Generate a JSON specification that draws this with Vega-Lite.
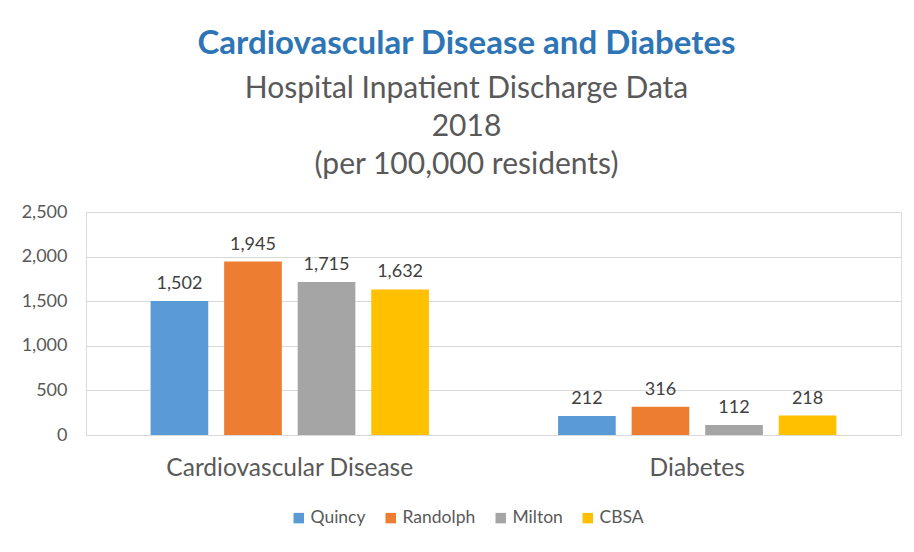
{
  "$schema": "https://vega.github.io/schema/vega-lite/v6.json",
  "width": 815,
  "height": 223,
  "autosize": {"type": "none"},
  "padding": {"left": 86, "top": 212, "right": 13, "bottom": 117},
  "background": "white",
  "title": {
    "text": "Cardiovascular Disease and Diabetes",
    "subtitle": ["Hospital Inpatient Discharge Data", "2018", "(per 100,000 residents)"],
    "anchor": "middle",
    "dx": -27,
    "offset": 23,
    "font": "Lato",
    "fontSize": 33,
    "fontWeight": "bold",
    "color": "#2e75b6",
    "subtitleFont": "Lato",
    "subtitleFontSize": 30,
    "subtitleColor": "#595959",
    "subtitleLineHeight": 38,
    "subtitlePadding": 13
  },
  "data": {
    "values": [
      {"category": "Cardiovascular Disease", "city": "Quincy", "value": 1502},
      {"category": "Cardiovascular Disease", "city": "Randolph", "value": 1945},
      {"category": "Cardiovascular Disease", "city": "Milton", "value": 1715},
      {"category": "Cardiovascular Disease", "city": "CBSA", "value": 1632},
      {"category": "Diabetes", "city": "Quincy", "value": 212},
      {"category": "Diabetes", "city": "Randolph", "value": 316},
      {"category": "Diabetes", "city": "Milton", "value": 112},
      {"category": "Diabetes", "city": "CBSA", "value": 218}
    ]
  },
  "encoding": {
    "x": {
      "field": "category",
      "type": "nominal",
      "sort": ["Cardiovascular Disease", "Diabetes"],
      "scale": {"paddingInner": 0, "paddingOuter": 0},
      "axis": {
        "title": null,
        "labelAngle": 0,
        "labelLimit": 0,
        "labelFont": "Lato",
        "labelFontSize": 24.5,
        "labelColor": "#595959",
        "labelPadding": 21,
        "ticks": false,
        "domain": false
      }
    },
    "xOffset": {
      "field": "city",
      "type": "nominal",
      "sort": ["Quincy", "Randolph", "Milton", "CBSA"],
      "scale": {"paddingInner": 0.216, "paddingOuter": 0.878}
    },
    "y": {
      "field": "value",
      "type": "quantitative",
      "scale": {"domain": [0, 2500], "nice": false},
      "axis": {
        "title": null,
        "values": [0, 500, 1000, 1500, 2000, 2500],
        "format": ",.0f",
        "domain": false,
        "ticks": false,
        "labelPadding": 19,
        "labelFont": "Lato",
        "labelFontSize": 18,
        "labelColor": "#595959",
        "gridColor": "#d9d9d9",
        "gridWidth": 1
      }
    }
  },
  "layer": [
    {
      "mark": {"type": "bar"},
      "encoding": {
        "color": {
          "field": "city",
          "type": "nominal",
          "sort": ["Quincy", "Randolph", "Milton", "CBSA"],
          "scale": {
            "domain": ["Quincy", "Randolph", "Milton", "CBSA"],
            "range": ["#5b9bd5", "#ed7d31", "#a5a5a5", "#ffc000"]
          },
          "legend": {
            "title": null,
            "orient": "none",
            "direction": "horizontal",
            "legendX": 204,
            "legendY": 297,
            "symbolType": "square",
            "symbolSize": 110,
            "symbolStrokeWidth": 0,
            "labelFont": "Lato",
            "labelFontSize": 17.5,
            "labelColor": "#595959",
            "columnPadding": 16,
            "labelOffset": 3
          }
        }
      }
    },
    {
      "mark": {
        "type": "text",
        "baseline": "bottom",
        "dy": -8,
        "font": "Lato",
        "fontSize": 18,
        "color": "#404040"
      },
      "encoding": {
        "text": {"field": "value", "type": "quantitative", "format": ",.0f"}
      }
    }
  ]
}
